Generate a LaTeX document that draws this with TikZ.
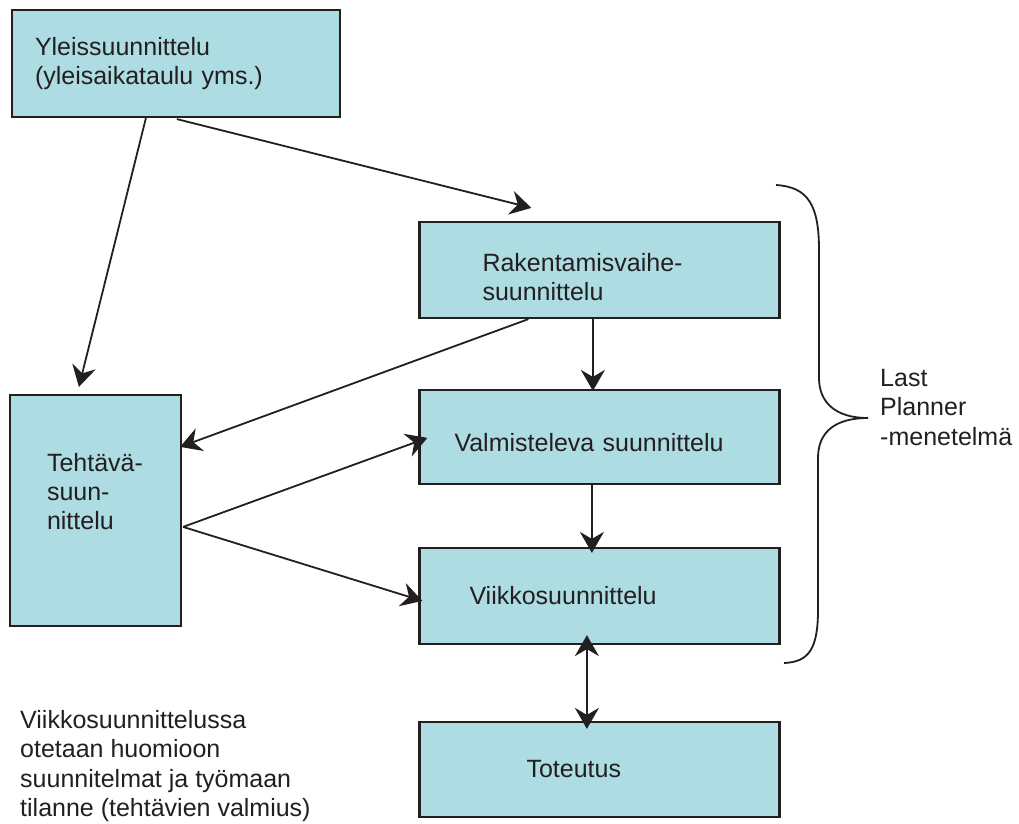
\documentclass[tikz,border=0pt]{standalone}
\usepackage{fontspec}
\setmainfont{Liberation Sans}
\usepackage{xcolor}
\usepackage{tikz}
\usetikzlibrary{arrows.meta, positioning, calc}

\definecolor{boxfill}{RGB}{173,220,226}
\definecolor{inkcol}{RGB}{35,31,32}

\begin{document}
\begin{tikzpicture}[
    x=1pt, y=-1pt,
    >={Stealth[length=21pt, width=24pt, inset=7pt]},
    box/.style={draw=inkcol, line width=2.2pt, fill=boxfill, rectangle, align=left,
        text=inkcol, inner ysep=0pt, font=\fontsize{25}{29}\selectfont},
    arr/.style={draw=inkcol, line width=1.8pt, ->},
    plain/.style={text=inkcol, inner sep=0pt, align=left, font=\fontsize{25}{29.5}\selectfont}
]

\useasboundingbox (0,0) rectangle (1019,823);

% boxes
\node[box, minimum width=328pt, minimum height=107pt, text width=282pt, inner xsep=23pt] (yleis) at (176,63.5) {Yleissuunnittelu\\(yleisaikataulu yms.)};
\node[box, minimum width=360pt, minimum height=96pt, text width=234pt, inner xsep=63pt] (rak) at (599.5,270) {\rule{0pt}{32pt}Rakentamisvaihe-\\suunnittelu};
\node[box, minimum width=360pt, minimum height=94pt, text width=290pt, inner xsep=35pt] (valm) at (599.5,437) {\rule{0pt}{30pt}Valmisteleva suunnittelu};
\node[box, minimum width=360pt, minimum height=96pt, text width=260pt, inner xsep=50pt] (viikko) at (599.5,596) {Viikkosuunnittelu};
\node[box, minimum width=360pt, minimum height=95pt, text width=146pt, inner xsep=107pt] (toteutus) at (599.5,769.5) {Toteutus};
\node[box, minimum width=171pt, minimum height=231pt, text width=97pt, inner xsep=37pt] (tehtava) at (95.5,510.5) {Tehtävä-\\suun-\\nittelu\par\vspace{38pt}};

% texts
\node[plain, anchor=north west] (note) at (20,710) {Viikkosuunnittelussa\\otetaan huomioon\\suunnitelmat ja työmaan\\tilanne (tehtävien valmius)};
\node[plain, anchor=north west] (lp) at (880,369) {Last\\Planner\\-menetelmä};

% connectors
\draw[arr] ($(yleis.south west)+(135,0)$) -- ($(tehtava.north west)+(70,-7)$);
\draw[arr] ($(yleis.south west)+(166,1)$) -- ($(rak.north west)+(113,-13)$);
\draw[arr] ($(rak.south west)+(110,0)$) -- ($(tehtava.north east)+(-2,53)$);
\draw[arr] ($(rak.south west)+(174.5,0)$) -- ($(valm.north west)+(174.5,2)$);
\draw[arr] ($(tehtava.north east)+(1,133)$) -- ($(valm.north west)+(9,49)$);
\draw[arr] ($(tehtava.north east)+(1,133)$) -- ($(viikko.north west)+(4,54)$);
\draw[arr] ($(valm.south west)+(173.5,0)$) -- ($(viikko.north west)+(173.5,6)$);
\draw[arr, <->] ($(viikko.south west)+(168.5,-10)$) -- ($(toteutus.north west)+(168.5,8)$);

% brace
\draw[inkcol, line width=1.8pt] (776,185) .. controls (808,187) and (819,205) .. (819,250) -- (819,378)
    .. controls (819,402) and (835,418) .. (868,418)
    .. controls (835,418) and (818,432) .. (818,458) -- (818,610)
    .. controls (818,650) and (808,662) .. (784,663);

\end{tikzpicture}
\end{document}
